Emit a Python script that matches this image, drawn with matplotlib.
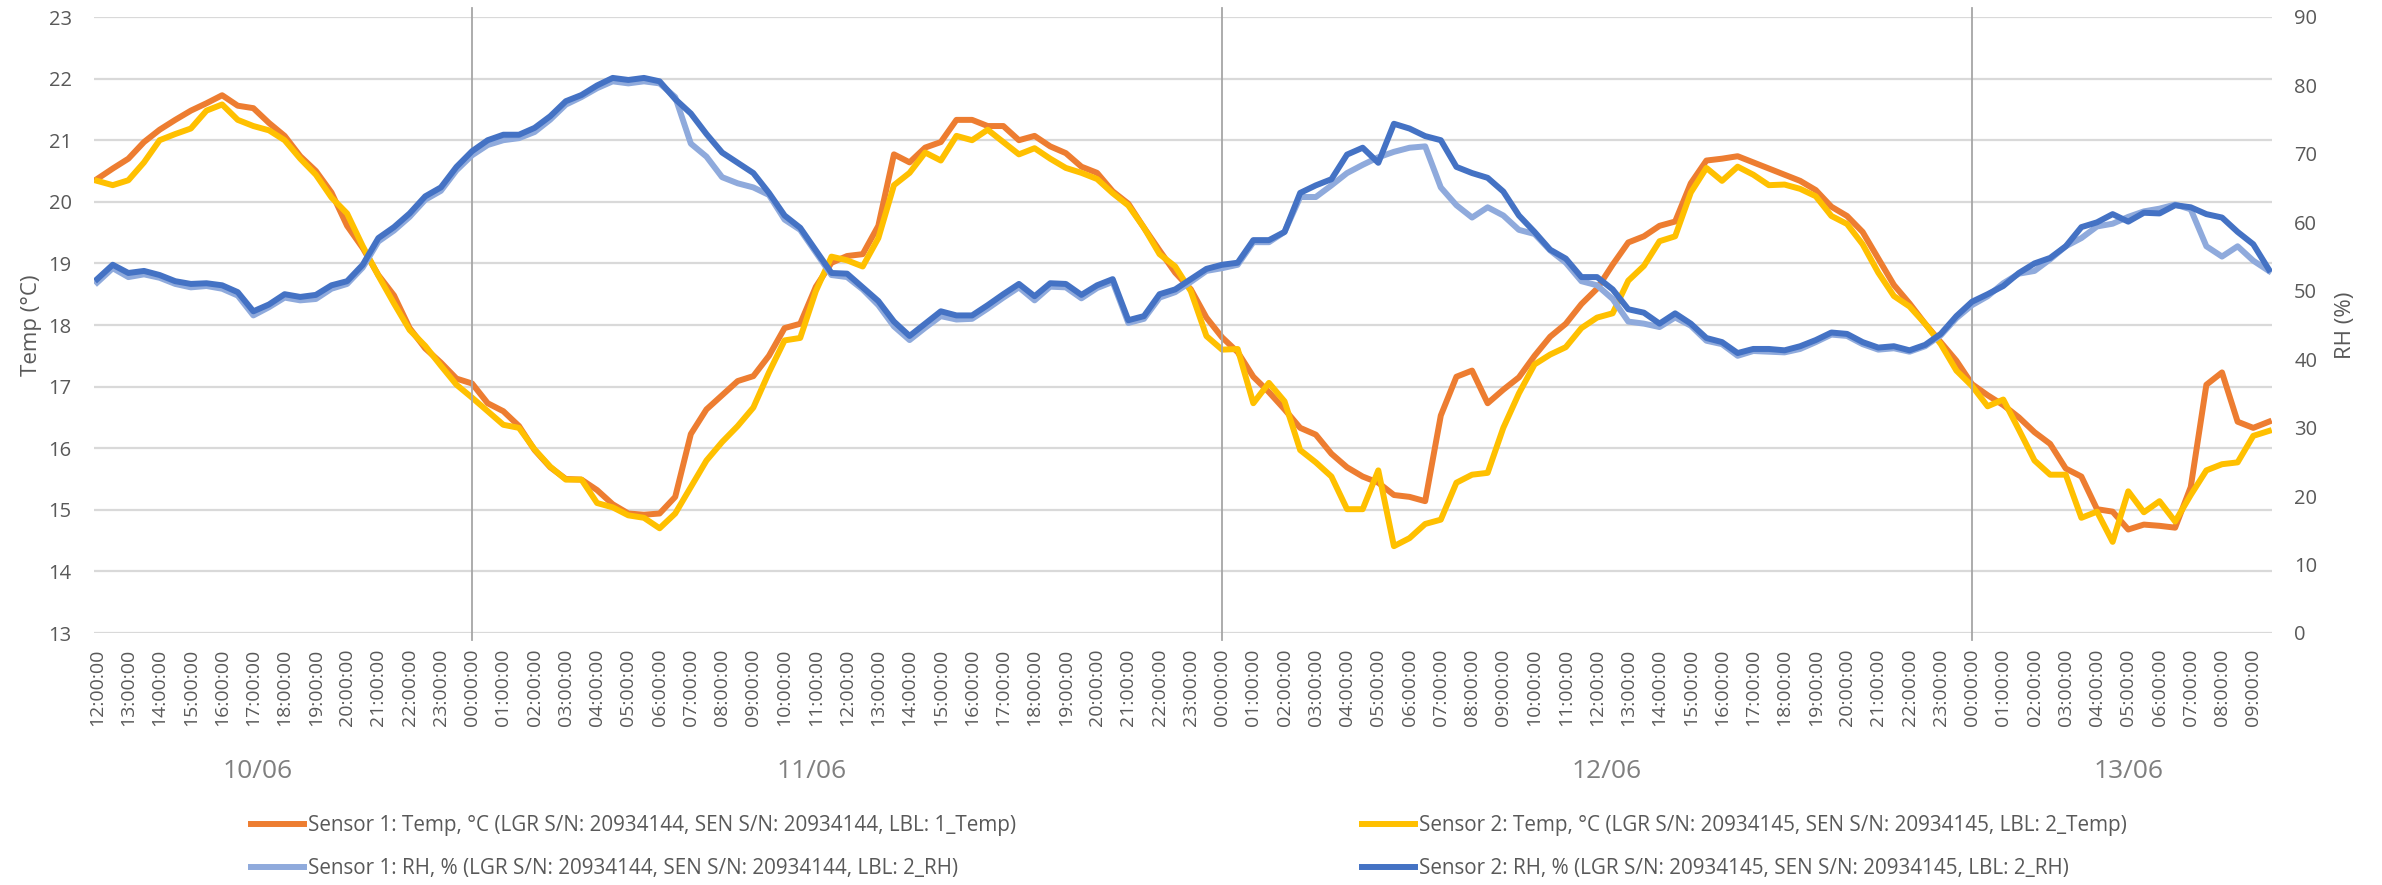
import numpy as np
import matplotlib
matplotlib.use('Agg')
import matplotlib.pyplot as plt

plt.rcParams['font.family'] = ['Open Sans', 'DejaVu Sans']

# readings every 30 min, starting 10/06 12:00
s1_temp = [20.37, 20.54, 20.70, 20.97, 21.17, 21.33, 21.48, 21.60, 21.73, 21.56, 21.52, 21.28,
           21.07, 20.74, 20.50, 20.15, 19.61, 19.25, 18.81, 18.48, 17.95, 17.62, 17.39, 17.13,
           17.05, 16.73, 16.60, 16.36, 15.97, 15.69, 15.50, 15.49, 15.32, 15.09, 14.94, 14.92,
           14.94, 15.21, 16.23, 16.63, 16.86, 17.09, 17.17, 17.50, 17.95, 18.02, 18.62, 19.01,
           19.12, 19.15, 19.61, 20.77, 20.64, 20.88, 20.97, 21.33, 21.33, 21.23, 21.23, 21.00,
           21.07, 20.90, 20.79, 20.57, 20.47, 20.17, 19.97, 19.58, 19.21, 18.85, 18.58, 18.12,
           17.80, 17.56, 17.16, 16.91, 16.63, 16.33, 16.22, 15.91, 15.69, 15.54, 15.44, 15.24,
           15.21, 15.14, 16.53, 17.16, 17.26, 16.73, 16.95, 17.15, 17.50, 17.81, 18.02, 18.34,
           18.59, 18.98, 19.34, 19.44, 19.61, 19.68, 20.30, 20.67, 20.70, 20.74, 20.64, 20.54,
           20.44, 20.34, 20.19, 19.92, 19.77, 19.51, 19.08, 18.65, 18.35, 18.02, 17.72, 17.42,
           17.04, 16.86, 16.70, 16.50, 16.26, 16.07, 15.67, 15.54, 15.01, 14.97, 14.68, 14.76,
           14.74, 14.71, 15.37, 17.03, 17.23, 16.43, 16.33, 16.43]

s2_temp = [20.34, 20.27, 20.35, 20.64, 21.00, 21.10, 21.19, 21.48, 21.58, 21.33, 21.23, 21.16,
           21.00, 20.70, 20.44, 20.07, 19.81, 19.28, 18.80, 18.35, 17.92, 17.66, 17.34, 17.03,
           16.82, 16.60, 16.38, 16.33, 15.98, 15.70, 15.49, 15.49, 15.11, 15.04, 14.91, 14.87,
           14.70, 14.94, 15.37, 15.80, 16.10, 16.36, 16.66, 17.23, 17.75, 17.79, 18.55, 19.11,
           19.05, 18.95, 19.41, 20.27, 20.47, 20.80, 20.67, 21.07, 21.00, 21.17, 20.97, 20.77,
           20.87, 20.70, 20.55, 20.47, 20.37, 20.14, 19.94, 19.58, 19.15, 18.95, 18.55, 17.82,
           17.60, 17.61, 16.73, 17.06, 16.76, 15.97, 15.77, 15.54, 15.01, 15.01, 15.64, 14.41,
           14.54, 14.77, 14.84, 15.44, 15.57, 15.60, 16.33, 16.89, 17.36, 17.52, 17.64, 17.95,
           18.12, 18.19, 18.72, 18.96, 19.36, 19.44, 20.15, 20.55, 20.34, 20.57, 20.44, 20.27,
           20.28, 20.21, 20.09, 19.77, 19.64, 19.31, 18.85, 18.47, 18.30, 18.02, 17.69, 17.26,
           17.01, 16.68, 16.79, 16.30, 15.80, 15.57, 15.57, 14.87, 14.97, 14.48, 15.30, 14.96,
           15.14, 14.81, 15.24, 15.64, 15.74, 15.77, 16.20, 16.28]

s1_rh = [51.2, 53.3, 52.0, 52.4, 51.9, 51.0, 50.5, 50.7, 50.3, 49.3, 46.4, 47.6,
         49.0, 48.6, 48.8, 50.3, 51.0, 53.4, 57.2, 58.8, 60.8, 63.3, 64.6, 67.6,
         69.8, 71.3, 72.0, 72.3, 73.2, 75.0, 77.2, 78.3, 79.6, 80.6, 80.3, 80.6,
         80.3, 78.3, 71.5, 69.6, 66.6, 65.7, 65.1, 64.0, 60.4, 58.9, 55.6, 52.3,
         52.0, 50.2, 47.9, 44.8, 42.8, 44.6, 46.3, 45.8, 45.9, 47.4, 49.0, 50.5,
         48.6, 50.6, 50.5, 48.9, 50.4, 51.3, 45.3, 45.9, 49.0, 49.8, 51.3, 52.9,
         53.3, 53.8, 57.1, 57.1, 58.6, 63.7, 63.7, 65.4, 67.2, 68.4, 69.5, 70.3,
         70.9, 71.1, 65.1, 62.5, 60.7, 62.2, 61.0, 58.9, 58.3, 55.9, 54.1, 51.4,
         50.8, 48.8, 45.5, 45.2, 44.7, 46.1, 44.9, 42.7, 42.2, 40.5, 41.2, 41.1,
         41.0, 41.5, 42.5, 43.6, 43.4, 42.2, 41.4, 41.6, 41.1, 41.9, 43.5, 46.0,
         47.9, 49.2, 51.1, 52.5, 52.9, 54.6, 56.5, 57.7, 59.4, 59.8, 60.8, 61.6,
         62.0, 62.6, 61.9, 56.5, 55.0, 56.5, 54.4, 52.9]

s2_rh = [51.7, 53.8, 52.6, 52.9, 52.3, 51.4, 51.0, 51.1, 50.8, 49.8, 47.0, 48.0,
         49.5, 49.1, 49.4, 50.8, 51.4, 53.8, 57.7, 59.3, 61.3, 63.8, 65.1, 68.1,
         70.4, 72.0, 72.8, 72.8, 73.8, 75.5, 77.7, 78.6, 80.0, 81.1, 80.8, 81.1,
         80.6, 78.0, 75.9, 72.9, 70.2, 68.7, 67.2, 64.3, 61.0, 59.2, 55.9, 52.6,
         52.5, 50.5, 48.5, 45.5, 43.4, 45.2, 47.0, 46.4, 46.4, 47.9, 49.5, 51.0,
         49.2, 51.1, 51.0, 49.4, 50.8, 51.7, 45.7, 46.3, 49.5, 50.2, 51.7, 53.2,
         53.8, 54.1, 57.4, 57.4, 58.6, 64.3, 65.4, 66.3, 69.9, 70.9, 68.7, 74.4,
         73.7, 72.6, 72.0, 68.1, 67.2, 66.5, 64.5, 61.0, 58.6, 56.0, 54.7, 52.0,
         52.0, 50.2, 47.3, 46.8, 45.2, 46.7, 45.2, 43.1, 42.5, 40.9, 41.5, 41.5,
         41.3, 41.9, 42.8, 43.9, 43.7, 42.5, 41.7, 41.9, 41.3, 42.1, 43.7, 46.3,
         48.4, 49.5, 50.7, 52.6, 54.0, 54.8, 56.5, 59.3, 60.0, 61.2, 60.1, 61.4,
         61.3, 62.5, 62.2, 61.2, 60.7, 58.6, 56.8, 53.1]

hours = np.arange(len(s1_temp)) * 0.5
tick_labels = [f"{(12 + i) % 24:02d}:00:00" for i in range(70)]
days = ['10/06', '11/06', '12/06', '13/06']
midnights = [12, 36, 60]

lbl_s1t = 'Sensor 1: Temp, °C (LGR S/N: 20934144, SEN S/N: 20934144, LBL: 1_Temp)'
lbl_s2t = 'Sensor 2: Temp, °C (LGR S/N: 20934145, SEN S/N: 20934145, LBL: 2_Temp)'
lbl_s1h = 'Sensor 1: RH, % (LGR S/N: 20934144, SEN S/N: 20934144, LBL: 2_RH)'
lbl_s2h = 'Sensor 2: RH, % (LGR S/N: 20934145, SEN S/N: 20934145, LBL: 2_RH)'

grey = '#595959'
W, H = 2382, 885
fig = plt.figure(figsize=(W / 100, H / 100), dpi=100)
ax = fig.add_axes([94 / W, 1 - 633 / H, (2272 - 94) / W, 616 / H])
ax2 = ax.twinx()

lw = 4.3
l1, = ax.plot(hours, s1_temp, color='#ED7D31', lw=lw, solid_joinstyle='round', label=lbl_s1t)
l2, = ax.plot(hours, s2_temp, color='#FFC000', lw=lw, solid_joinstyle='round', label=lbl_s2t)
l3, = ax2.plot(hours, s1_rh, color='#8FAADC', lw=lw, solid_joinstyle='round', label=lbl_s1h)
l4, = ax2.plot(hours, s2_rh, color='#4472C4', lw=lw, solid_joinstyle='round', label=lbl_s2h)

ax.set_ylim(13, 23)
ax.set_yticks(range(13, 24))
ax2.set_ylim(0, 90)
ax2.set_yticks(range(0, 91, 10))
ax.set_xlim(-0.1, 69.6)
ax.set_xticks(range(70))
ax.set_xticklabels(tick_labels, rotation=90, fontsize=14, color=grey)

ax.grid(axis='y', color='#D9D9D9', lw=1.6)
ax.set_axisbelow(True)
for a in (ax, ax2):
    for s in a.spines.values():
        s.set_visible(False)
ax.tick_params(axis='both', length=0, labelsize=14.5, labelcolor=grey)
ax.tick_params(axis='y', pad=16)
ax.tick_params(axis='x', pad=11, labelsize=14)
ax2.tick_params(axis='y', length=0, labelsize=14.5, labelcolor=grey, pad=16)

ax.set_ylabel('Temp (°C)', fontsize=16, color=grey)
ax.yaxis.set_label_coords(-0.024, 0.5)
ax2.set_ylabel('RH (%)', fontsize=16, color=grey)
ax2.yaxis.set_label_coords(1.029, 0.5)

for m in midnights:
    ax.axvline(m, ymin=-0.011, ymax=1.015, color='#A6A6A6', lw=1.3, clip_on=False)

mixed = ax.get_xaxis_transform().__class__(ax.transData, fig.transFigure)
for d, xpos in zip(days, [5.15, 22.85, 48.3, 65.0]):
    ax.text(xpos, 1 - 772 / H, d, transform=mixed,
            ha='center', va='center', fontsize=19, color='#7F7F7F')

fig.legend(handles=[l1, l3, l2, l4], ncol=2, loc='center left',
           bbox_to_anchor=(251 / W, 1 - 847 / H), frameon=False, fontsize=14.9,
           labelcolor=grey, handlelength=2.56, handletextpad=0.2,
           columnspacing=16.7, labelspacing=1.05, borderaxespad=0, borderpad=0)

fig.savefig('out.png', dpi=100)
